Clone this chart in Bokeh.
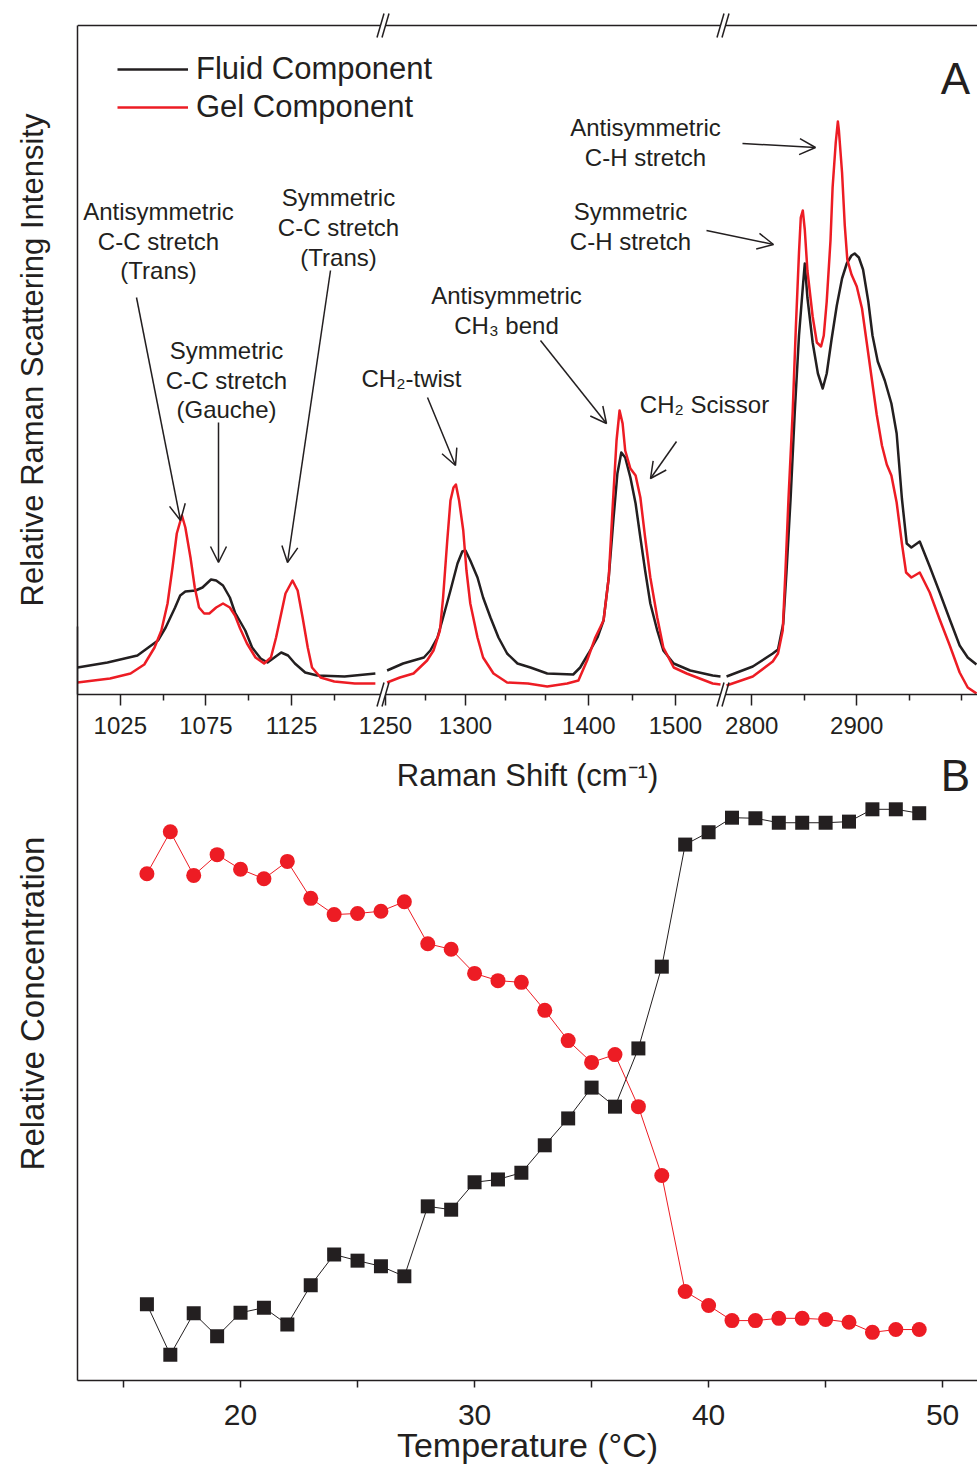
import numpy as np
from bokeh.plotting import figure
from bokeh.layouts import column
from bokeh.models import (Range1d, LinearAxis, FixedTicker, Label, Arrow, OpenHead,
                          Legend, LegendItem)
from bokeh.embed import file_html
from bokeh.resources import INLINE

# ---------------- Panel A: Raman spectra (shift in cm^-1, intensity in a.u.) ----------------
fluid_shift = [1000, 1017.5, 1035, 1039, 1047, 1051.5, 1057, 1060, 1063, 1069, 1073, 1078, 1081,
               1085, 1089, 1092, 1098, 1102, 1107, 1111, 1115, 1119, 1123, 1127, 1133, 1140, 1156,
               1174,
               1251, 1261, 1274, 1278, 1282.5, 1286, 1290.6, 1295, 1298, 1300, 1303, 1307.5, 1311,
               1315.6, 1320.6, 1326, 1332.5, 1340.6, 1352, 1382, 1390, 1399.6, 1410, 1417, 1423,
               1428.6, 1433, 1437.5, 1442, 1448, 1454, 1459.5, 1465, 1471, 1479, 1486, 1498, 1517,
               1543, 1552,
               2776, 2801, 2820, 2825, 2830, 2833, 2837, 2841, 2845, 2849, 2850.5, 2853, 2858, 2863,
               2867.6, 2871.4, 2876, 2881, 2886, 2890.5, 2895, 2898, 2902, 2906, 2911, 2915, 2920,
               2926.7, 2933, 2938, 2943, 2947.6, 2952, 2960, 2969.5, 2979, 2988.6, 2998, 3005.7,
               3014]
fluid_intensity = [27, 32, 39, 44, 54, 67, 87, 99, 103, 104, 107, 115, 114, 109, 97, 82, 64, 47,
                   36, 32, 37, 42, 39, 31, 22, 19, 18, 21,
                   24, 31, 37, 44, 57, 77, 104, 131, 143, 144, 134, 117, 97, 77, 57, 41, 31, 27, 21,
                   20, 27, 41, 57, 74, 117, 177, 221, 242, 237, 217, 191, 157, 124, 91, 64, 44, 31,
                   24, 19, 18,
                   18, 28, 41, 45, 71, 121, 196, 283, 359, 412, 431, 397, 352, 321, 306, 321, 355,
                   389, 416, 431, 439, 441, 437, 425, 393, 359, 333, 314, 291, 261, 196, 151, 147,
                   153, 128, 102, 75, 49, 37, 30]

gel_shift = [1000, 1019, 1031, 1039, 1045, 1049, 1052.6, 1055.5, 1058, 1061, 1063, 1066, 1068.5,
             1071, 1074, 1077, 1081, 1085, 1089, 1092, 1095, 1099, 1104, 1109, 1113, 1116, 1119,
             1121.5, 1125.6, 1128.6, 1131.5, 1134.5, 1137, 1142, 1150, 1162, 1174,
             1251, 1259, 1267.5, 1276, 1280, 1284, 1286, 1288.6, 1290.6, 1292.5, 1294, 1296,
             1298.6, 1300.6, 1303, 1307.5, 1311, 1317.5, 1326, 1339, 1352, 1375, 1388, 1398,
             1407.5, 1417, 1423, 1427.5, 1432, 1435.5, 1439, 1442, 1448, 1454, 1459.5, 1465, 1471,
             1479, 1486, 1498, 1513, 1543, 1552,
             2776, 2801, 2820, 2825, 2829.5, 2832, 2835, 2839, 2842, 2845, 2846.7, 2848.6, 2850.5,
             2853, 2858, 2862, 2866, 2868.6, 2871.4, 2875, 2877, 2880, 2882, 2883, 2886, 2888.6,
             2891, 2895, 2900, 2905, 2909.5, 2914, 2919, 2924, 2928.6, 2933, 2938, 2943, 2947,
             2952, 2960, 2969.5, 2979, 2988.6, 2998, 3005.7, 3014]
gel_intensity = [12, 16, 21, 30, 47, 64, 91, 127, 161, 179, 167, 137, 107, 87, 81, 81, 87, 91, 87,
                 79, 66, 51, 37, 31, 37, 57, 81, 101, 114, 104, 77, 47, 27, 17, 13, 11, 11,
                 12, 17, 21, 34, 44, 64, 97, 154, 194, 207, 210, 194, 164, 124, 91, 57, 37, 21, 12,
                 11, 8, 11, 14, 34, 57, 74, 117, 187, 254, 284, 271, 244, 226, 219, 197, 157, 117,
                 77, 47, 27, 21, 11, 10,
                 9, 18, 33, 41, 64, 121, 196, 283, 367, 442, 477, 484, 465, 424, 378, 352, 348, 359,
                 393, 454, 507, 552, 573, 564, 522, 469, 435, 420, 408, 386, 352, 318, 280, 249, 230,
                 219, 192, 151, 122, 117, 122, 102, 75, 49, 22, 7, 1]

raman_major_ticks = [1025, 1075, 1125, 1250, 1300, 1400, 1500, 2800, 2900]
raman_minor_ticks = [1050, 1100, 1150, 1275, 1325, 1350, 1450, 2850, 2950, 3000]

# ---------------- Panel B: relative concentration vs temperature ----------------
temperature = list(range(16, 50))
fluid_conc = [0.136, 0.046, 0.120, 0.079, 0.121, 0.130, 0.100, 0.170, 0.225, 0.214, 0.204, 0.186,
              0.311, 0.305, 0.354, 0.359, 0.371, 0.420, 0.468, 0.523, 0.489, 0.593, 0.739, 0.957,
              0.979, 1.005, 1.004, 0.996, 0.996, 0.996, 0.998, 1.020, 1.020, 1.013]
gel_conc = [0.905, 0.980, 0.902, 0.939, 0.913, 0.896, 0.927, 0.861, 0.832, 0.834, 0.838, 0.855,
            0.780, 0.770, 0.727, 0.714, 0.711, 0.661, 0.607, 0.568, 0.582, 0.489, 0.366, 0.159,
            0.134, 0.107, 0.107, 0.111, 0.111, 0.109, 0.104, 0.086, 0.091, 0.091]
temp_major_ticks = [20, 30, 40, 50]
temp_minor_ticks = [15, 25, 35, 45]

assert len(fluid_shift) == len(fluid_intensity)
assert len(gel_shift) == len(gel_intensity)
assert len(temperature) == len(fluid_conc) == len(gel_conc)

INK = "#231f20"
RED = "#ed1c24"
FONT = "Liberation Sans"

# Broken Raman axis: (shift_lo, shift_hi, pos_lo, pos_hi) for each piece of the axis
AXIS_PIECES = [
    (1000, 1177, 0, 303),
    (1250, 1350, 308, 468),
    (1350, 1552, 468, 643),
    (2775, 3015, 648, 900),
]
CURVE_SPANS = [(1000, 1177), (1250, 1552), (2775, 3015)]   # continuous stretches of each curve
BREAKS = [(303, 308), (643, 648)]                            # gaps drawn with "//" marks
AXIS_LEN = 900
A_TOP = 669                                                  # top of the intensity range

# vertical page layout (px): strip with the top line, panel A, panel B overlapping below
STRIP_H = 50
A_FRAME_TOP, A_FRAME_BOTTOM, A_HEIGHT = 25, 694, 810
B_FRAME_TOP, B_FRAME_BOTTOM, B_BORDER_BOTTOM = 626, 1380, 105
B_UNIT = 560          # frame pixels per unit of relative concentration


def axis_pos(w):
    for lo, hi, a, b in AXIS_PIECES:
        if lo <= w <= hi:
            return a + (w - lo) * (b - a) / (hi - lo)
    raise ValueError(w)


def split_curve(shift, inten):
    xs, ys = [], []
    for lo, hi in CURVE_SPANS:
        pts = [(axis_pos(w), v) for w, v in zip(shift, inten) if lo <= w <= hi]
        xs.append([p[0] for p in pts])
        ys.append([p[1] for p in pts])
    return xs, ys


def slash_marks(plot, h, **ranges):
    """Pair of slanted strokes at every axis break, at height h."""
    for b0, b1 in BREAKS:
        for b in (b0, b1):
            plot.add_layout(Arrow(end=None, x_start=b - 3.5, y_start=h - 12, x_end=b + 3.5,
                                  y_end=h + 12, line_color=INK, line_width=1.5, **ranges))


# ---------------- top strip: the broken top line of panel A ----------------
pT = figure(width=977, height=STRIP_H, x_range=Range1d(0, AXIS_LEN),
            y_range=Range1d(A_TOP - A_FRAME_TOP, A_TOP + STRIP_H - A_FRAME_TOP),
            x_axis_type=None, y_axis_type=None, output_backend="svg", toolbar_location=None,
            min_border_left=77, min_border_right=0, min_border_top=0, min_border_bottom=0,
            outline_line_color=None, background_fill_alpha=0, border_fill_alpha=0)
edges = [0] + [v for br in BREAKS for v in br] + [AXIS_LEN]
pT.segment(x0=edges[0::2], y0=[A_TOP] * (len(edges) // 2), x1=edges[1::2],
           y1=[A_TOP] * (len(edges) // 2), line_color=INK, line_width=1.5)
slash_marks(pT, A_TOP)

# ---------------- Panel A figure ----------------
pA = figure(width=977, height=A_HEIGHT, x_range=Range1d(0, AXIS_LEN), y_range=Range1d(0, A_TOP),
            x_axis_type=None, y_axis_type=None, output_backend="svg", toolbar_location=None,
            min_border_left=77, min_border_right=0, min_border_top=A_FRAME_TOP,
            min_border_bottom=A_HEIGHT - A_FRAME_BOTTOM, outline_line_color=None,
            background_fill_alpha=0, border_fill_alpha=0, margin=(-STRIP_H, 0, 0, 0))

fx, fy = split_curve(fluid_shift, fluid_intensity)
gx, gy = split_curve(gel_shift, gel_intensity)
r_fluid = pA.multi_line(fx, fy, line_color=INK, line_width=2.5, line_join="round")
r_gel = pA.multi_line(gx, gy, line_color=RED, line_width=2.5, line_join="round")

xa = LinearAxis(ticker=FixedTicker(ticks=[axis_pos(t) for t in raman_major_ticks],
                                   minor_ticks=[axis_pos(t) for t in raman_minor_ticks]),
                major_label_overrides={axis_pos(t): str(t) for t in raman_major_ticks},
                axis_label="Raman Shift (cm\u207b\u00b9)")
xa.axis_line_width = 1.5
xa.axis_line_color = INK
xa.major_tick_out, xa.major_tick_in = 11, 0
xa.minor_tick_out, xa.minor_tick_in = 6, 0
xa.major_tick_line_width = xa.minor_tick_line_width = 1.5
xa.major_tick_line_color = xa.minor_tick_line_color = INK
xa.major_label_text_font = FONT
xa.major_label_text_font_size = "24px"
xa.major_label_text_color = INK
xa.major_label_standoff = 11
xa.axis_label_text_font = FONT
xa.axis_label_text_font_style = "normal"
xa.axis_label_text_font_size = "31px"
xa.axis_label_text_color = INK
xa.axis_label_standoff = 21
pA.add_layout(xa, "below")

ya = LinearAxis(ticker=FixedTicker(ticks=[]), major_label_text_font_size="0px",
                major_tick_out=0, minor_tick_out=0, axis_line_width=1.5, axis_line_color=INK,
                axis_label="Relative Raman Scattering Intensity")
ya.axis_label_text_font = FONT
ya.axis_label_text_font_style = "normal"
ya.axis_label_text_font_size = "31px"
ya.axis_label_text_color = INK
ya.axis_label_standoff = 28
pA.add_layout(ya, "left")

legend = Legend(items=[LegendItem(label="Fluid Component", renderers=[r_fluid]),
                       LegendItem(label="Gel Component", renderers=[r_gel])],
                location=(40, 568), glyph_width=71, glyph_height=38, label_height=38,
                label_standoff=8, spacing=0, padding=0, margin=0, border_line_color=None,
                background_fill_alpha=0, label_text_font=FONT, label_text_font_size="31px",
                label_text_color=INK)
pA.add_layout(legend)

# peak assignments
notes = [
    ("Antisymmetric", 81, 483), ("C-C stretch", 81, 453), ("(Trans)", 81, 424),
    ("Symmetric", 149, 344), ("C-C stretch", 149, 314), ("(Gauche)", 149, 285),
    ("Symmetric", 261, 497), ("C-C stretch", 261, 467), ("(Trans)", 261, 437),
    ("CH\u2082-twist", 334, 316),
    ("Antisymmetric", 429, 399), ("CH\u2083 bend", 429, 369),
    ("CH\u2082 Scissor", 627, 290),
    ("Antisymmetric", 568, 567), ("C-H stretch", 568, 537),
    ("Symmetric", 553, 483), ("C-H stretch", 553, 453),
]
for txt, u, h in notes:
    pA.add_layout(Label(x=u, y=h, text=txt, text_align="center", text_baseline="middle",
                        text_font=FONT, text_font_size="24px", text_color=INK))

arrows = [((59, 397), (103, 174)), ((141, 272), (141, 132)), ((253, 424), (210, 132)),
          ((350, 297), (378, 229)), ((463, 354), (529, 271)), ((599, 253), (573, 216)),
          ((665, 551), (738, 547)), ((629, 464), (696, 450))]
for (x0, y0), (x1, y1) in arrows:
    pA.add_layout(Arrow(end=OpenHead(size=16, line_width=1.5, line_color=INK),
                        x_start=x0, y_start=y0, x_end=x1, y_end=y1,
                        line_color=INK, line_width=1.5))

pA.add_layout(Label(x=878, y=616, text="A", text_align="center", text_baseline="middle",
                    text_font=FONT, text_font_size="44px", text_color=INK))

# ---------------- Panel B figure (transparent, overlapping the foot of panel A) -------------
B_HEIGHT = B_FRAME_BOTTOM - B_FRAME_TOP + B_BORDER_BOTTOM
pB = figure(width=977, height=B_HEIGHT, x_range=Range1d(13.034, 51.49),
            y_range=Range1d(0, (B_FRAME_BOTTOM - B_FRAME_TOP) / B_UNIT),
            x_axis_type=None, y_axis_type=None, output_backend="svg", toolbar_location=None,
            min_border_left=77, min_border_right=0, min_border_top=0,
            min_border_bottom=B_BORDER_BOTTOM, outline_line_color=None,
            background_fill_alpha=0, border_fill_alpha=0,
            margin=(B_FRAME_TOP - (A_HEIGHT - STRIP_H) - STRIP_H, 0, 0, 0))
# Raman-axis coordinates of panel A, for the breaks on A's bottom line and the panel letter
pB.extra_x_ranges = {"raman": Range1d(0, AXIS_LEN)}
pB.extra_y_ranges = {"spec": Range1d(-(B_FRAME_BOTTOM - A_FRAME_BOTTOM),
                                     A_FRAME_BOTTOM - B_FRAME_TOP)}

pB.line(temperature, fluid_conc, line_color=INK, line_width=1)
pB.line(temperature, gel_conc, line_color=RED, line_width=1)
pB.scatter(temperature, fluid_conc, marker="square", size=14, fill_color=INK, line_color=None)
pB.scatter(temperature, gel_conc, marker="circle", size=15, fill_color=RED, line_color=None)

xb = LinearAxis(ticker=FixedTicker(ticks=temp_major_ticks, minor_ticks=temp_minor_ticks),
                axis_label="Temperature (\u00b0C)")
xb.axis_line_width = 1.5
xb.axis_line_color = INK
xb.major_tick_out, xb.major_tick_in = 7, 0
xb.minor_tick_out, xb.minor_tick_in = 7, 0
xb.major_tick_line_width = xb.minor_tick_line_width = 1.5
xb.major_tick_line_color = xb.minor_tick_line_color = INK
xb.major_label_text_font = FONT
xb.major_label_text_font_size = "30px"
xb.major_label_text_color = INK
xb.major_label_standoff = 17
xb.axis_label_text_font = FONT
xb.axis_label_text_font_style = "normal"
xb.axis_label_text_font_size = "34px"
xb.axis_label_text_color = INK
xb.axis_label_standoff = -2
pB.add_layout(xb, "below")

yb = LinearAxis(ticker=FixedTicker(ticks=[]), major_label_text_font_size="0px",
                major_tick_out=0, minor_tick_out=0, axis_line_width=1.5, axis_line_color=INK,
                axis_label="Relative Concentration")
yb.axis_label_text_font = FONT
yb.axis_label_text_font_style = "normal"
yb.axis_label_text_font_size = "33px"
yb.axis_label_text_color = INK
yb.axis_label_standoff = 27
pB.add_layout(yb, "left")

# gaps in A's bottom line at the breaks, then the slash marks
for b0, b1 in BREAKS:
    pB.add_layout(Arrow(end=None, x_start=b0, y_start=0, x_end=b1, y_end=0, line_color="white",
                        line_width=4, x_range_name="raman", y_range_name="spec"))
slash_marks(pB, 0, x_range_name="raman", y_range_name="spec")
pB.add_layout(Label(x=878, y=-81, text="B", text_align="center", text_baseline="middle",
                    text_font=FONT, text_font_size="44px", text_color=INK,
                    x_range_name="raman", y_range_name="spec"))

page = column(pT, pA, pB, spacing=0)
open("out.html", "w").write(file_html(page, INLINE, title="Raman spectra and phase transition"))
